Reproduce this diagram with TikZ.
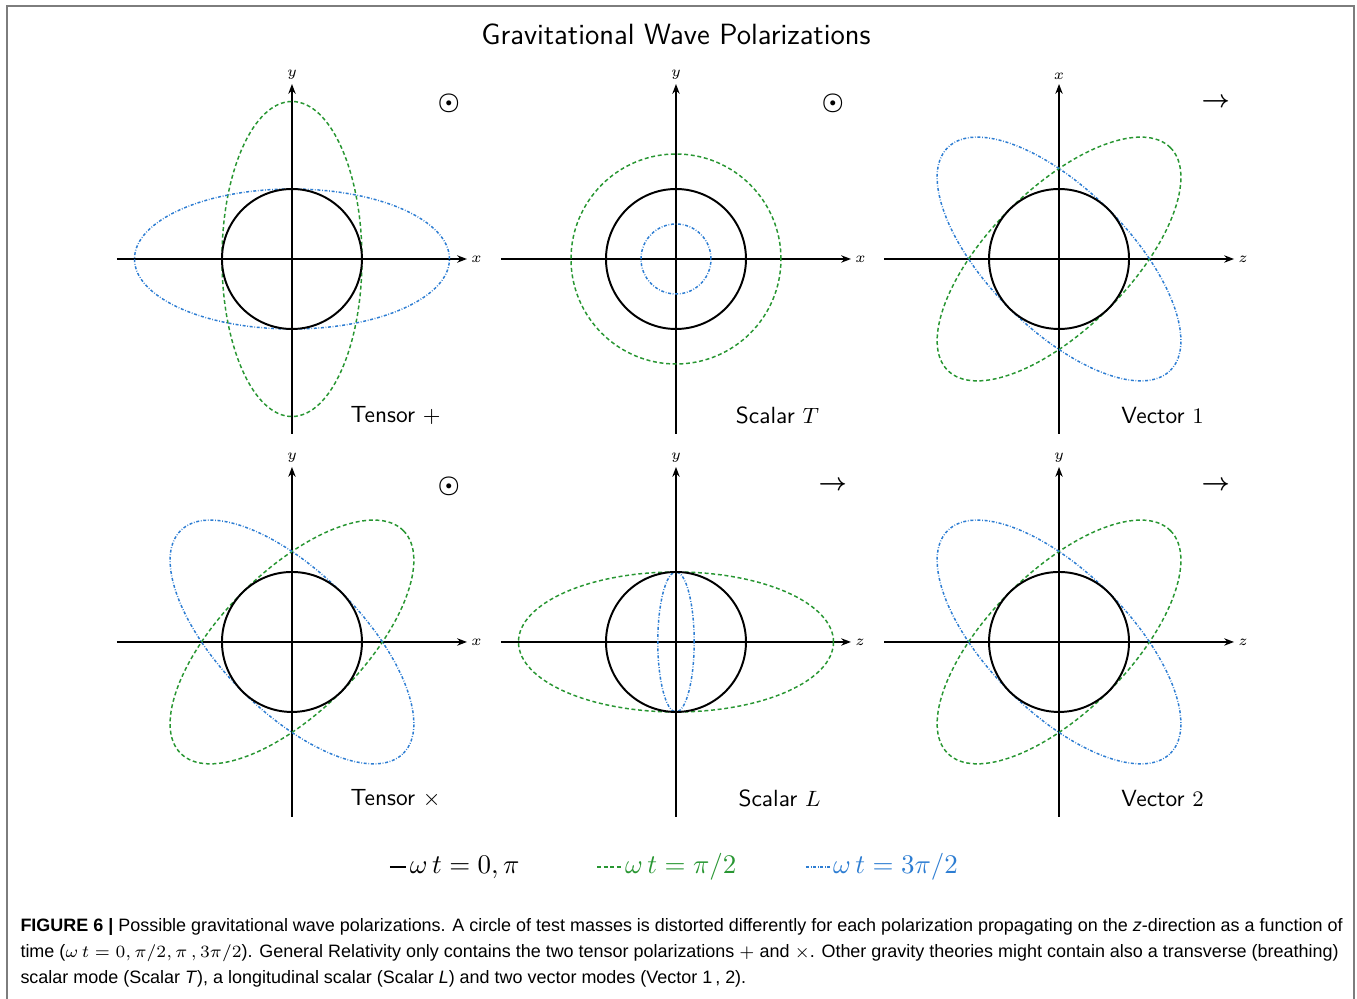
\documentclass[tikz,border=0pt]{standalone}
\usepackage{fontspec}
\usepackage{amsmath}
\usepackage{xcolor}
\definecolor{wavegreen}{RGB}{40,150,50}
\definecolor{waveblue}{RGB}{45,125,210}
\definecolor{framegray}{RGB}{125,125,125}
\newfontfamily\capfont{Liberation Sans}
\usepackage{tikz}
\usetikzlibrary{arrows.meta, positioning}
\tikzset{
  axis/.style={line width=0.6pt, -{Stealth[length=4pt, width=3pt]}},
  rest/.style={line width=0.8pt, black},
  halfpi/.style={line width=0.6pt, color=wavegreen, dash pattern=on 1.6pt off 1.1pt},
  threehalfpi/.style={line width=0.6pt, color=waveblue, dash pattern=on 1.2pt off 0.7pt on 0.3pt off 0.7pt},
  axlabel/.style={font=\fontsize{6}{7}\selectfont, inner sep=1.5pt},
  modelabel/.style={font=\sffamily\fontsize{9.5}{11}\selectfont},
  dirmark/.style={font=\boldmath\fontsize{10}{12}\selectfont},
  legtext/.style={font=\fontsize{10.5}{12}\selectfont, inner sep=1pt},
}

\begin{document}
\begin{tikzpicture}
  \useasboundingbox (0,0) rectangle (19.386,-14.271);
  % frame (open at the bottom)
  \draw[framegray, line width=0.8pt] (0.1,-14.4) -- (0.1,-0.086) -- (19.343,-0.086) -- (19.343,-14.4);

  \node (title) [font=\sffamily\fontsize{11.9}{13}\selectfont] at (9.657,-0.486) {Gravitational Wave Polarizations};

  % --- Tensor + ---
  \begin{scope}[shift={(4.171,-3.700)}]
    \draw[axis] (-2.5,0) -- (2.5,0) node[axlabel, right] (tpX) {$x$};
    \draw[axis] (0,-2.5) -- (0,2.5) node[axlabel, above] (tpY) {$y$};
    \draw[halfpi] (0,0) ellipse [x radius=1, y radius=2.25];
    \draw[threehalfpi] (0,0) ellipse [x radius=2.25, y radius=1];
    \draw[rest] (0,0) circle [radius=1];
    \node (tpdir) [dirmark] at (2.24,2.23) {$\odot$};
    \node (tplab) [modelabel] at (1.48,-2.23) {Tensor $+$};
  \end{scope}

  % --- Scalar T ---
  \begin{scope}[shift={(9.657,-3.700)}]
    \draw[axis] (-2.5,0) -- (2.5,0) node[axlabel, right] (stX) {$x$};
    \draw[axis] (0,-2.5) -- (0,2.5) node[axlabel, above] (stY) {$y$};
    \draw[halfpi] (0,0) circle [radius=1.5];
    \draw[threehalfpi] (0,0) circle [radius=0.5];
    \draw[rest] (0,0) circle [radius=1];
    \node (stdir) [dirmark] at (2.24,2.23) {$\odot$};
    \node (stlab) [modelabel] at (1.45,-2.23) {Scalar $T$};
  \end{scope}

  % --- Vector 1 ---
  \begin{scope}[shift={(15.129,-3.700)}]
    \draw[axis] (-2.5,0) -- (2.5,0) node[axlabel, right] (vaZ) {$z$};
    \draw[axis] (0,-2.5) -- (0,2.5) node[axlabel, above] (vaX) {$x$};
    \draw[halfpi, rotate=45] (0,0) ellipse [x radius=2.25, y radius=1];
    \draw[threehalfpi, rotate=-45] (0,0) ellipse [x radius=2.25, y radius=1];
    \draw[rest] (0,0) circle [radius=1];
    \node (vadir) [dirmark] at (2.24,2.23) {$\rightarrow$};
    \node (valab) [modelabel] at (1.48,-2.23) {Vector $1$};
  \end{scope}

  % --- Tensor x ---
  \begin{scope}[shift={(4.171,-9.171)}]
    \draw[axis] (-2.5,0) -- (2.5,0) node[axlabel, right] (tcX) {$x$};
    \draw[axis] (0,-2.5) -- (0,2.5) node[axlabel, above] (tcY) {$y$};
    \draw[halfpi, rotate=45] (0,0) ellipse [x radius=2.25, y radius=1];
    \draw[threehalfpi, rotate=-45] (0,0) ellipse [x radius=2.25, y radius=1];
    \draw[rest] (0,0) circle [radius=1];
    \node (tcdir) [dirmark] at (2.24,2.23) {$\odot$};
    \node (tclab) [modelabel] at (1.48,-2.23) {Tensor $\times$};
  \end{scope}

  % --- Scalar L ---
  \begin{scope}[shift={(9.657,-9.171)}]
    \draw[axis] (-2.5,0) -- (2.5,0) node[axlabel, right] (slZ) {$z$};
    \draw[axis] (0,-2.5) -- (0,2.5) node[axlabel, above] (slY) {$y$};
    \draw[halfpi] (0,0) ellipse [x radius=2.25, y radius=1];
    \draw[threehalfpi] (0,0) ellipse [x radius=0.26, y radius=1];
    \draw[rest] (0,0) circle [radius=1];
    \node (sldir) [dirmark] at (2.24,2.23) {$\rightarrow$};
    \node (sllab) [modelabel] at (1.48,-2.23) {Scalar $L$};
  \end{scope}

  % --- Vector 2 ---
  \begin{scope}[shift={(15.129,-9.171)}]
    \draw[axis] (-2.5,0) -- (2.5,0) node[axlabel, right] (vbZ) {$z$};
    \draw[axis] (0,-2.5) -- (0,2.5) node[axlabel, above] (vbY) {$y$};
    \draw[halfpi, rotate=45] (0,0) ellipse [x radius=2.25, y radius=1];
    \draw[threehalfpi, rotate=-45] (0,0) ellipse [x radius=2.25, y radius=1];
    \draw[rest] (0,0) circle [radius=1];
    \node (vbdir) [dirmark] at (2.24,2.23) {$\rightarrow$};
    \node (vblab) [modelabel] at (1.48,-2.23) {Vector $2$};
  \end{scope}

  % --- legend ---
  \draw[rest, line width=1.1pt] (5.571,-12.386) -- (5.80,-12.386) node[legtext, right] (legrest) {$\omega\, t=0,\pi$};
  \draw[halfpi] (8.529,-12.386) -- (8.886,-12.386) node[legtext, right, text=wavegreen] (leghalf) {$\omega\, t=\pi/2$};
  \draw[threehalfpi] (11.514,-12.386) -- (11.857,-12.386) node[legtext, right, text=waveblue] (legthree) {$\omega\, t=3\pi/2$};

  % --- caption ---
  \node (caption) [anchor=north west, inner sep=0pt, align=left,
        font=\capfont\fontsize{7.3}{10.57}\selectfont] at (0.286,-13.12)
    {\textbf{FIGURE 6 |} Possible gravitational wave polarizations. A circle of test masses is distorted differently for each polarization propagating on the \textit{z}-direction as a function of\\
     time ($\omega\, t=0,\pi/2,\pi\,,3\pi/2$). General Relativity only contains the two tensor polarizations $+$ and $\times$. Other gravity theories might contain also a transverse (breathing)\\
     scalar mode (Scalar \textit{T}), a longitudinal scalar (Scalar \textit{L}) and two vector modes (Vector 1\,, 2).};
\end{tikzpicture}
\end{document}
